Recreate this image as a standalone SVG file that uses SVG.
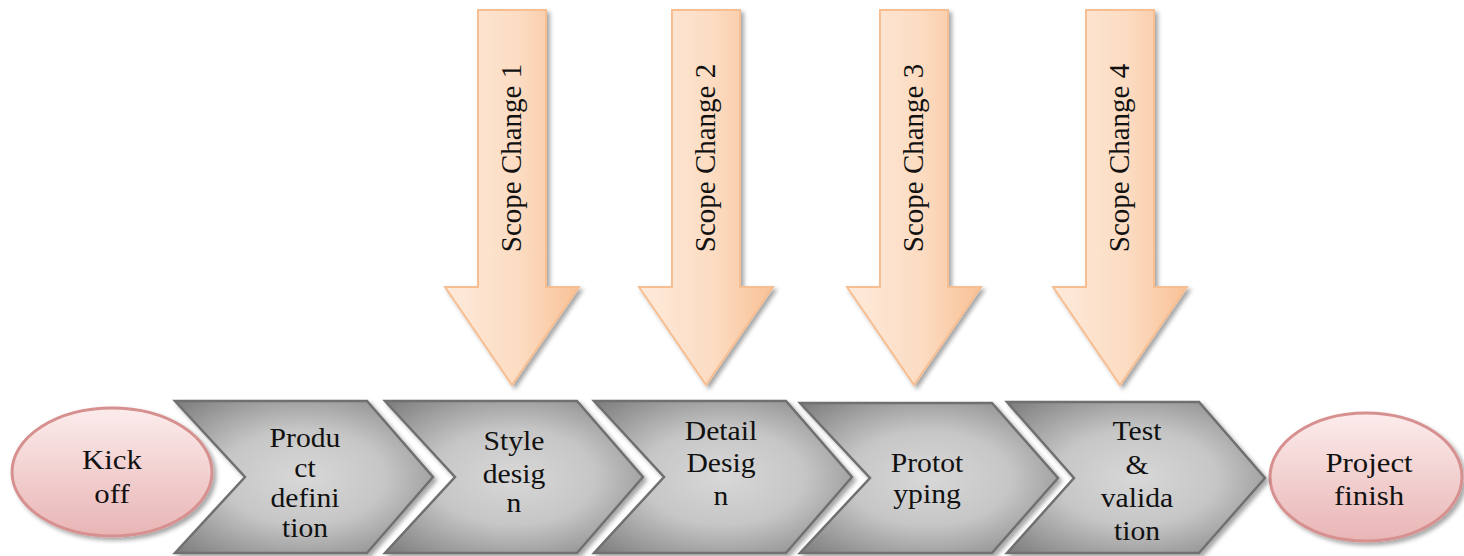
<svg xmlns="http://www.w3.org/2000/svg" width="1464" height="556" viewBox="0 0 1464 556">
  <defs>
    <linearGradient id="peach" x1="0" y1="0" x2="1" y2="0">
      <stop offset="0" stop-color="#fdeadb"/>
      <stop offset="0.55" stop-color="#fcdcc2"/>
      <stop offset="1" stop-color="#f8c196"/>
    </linearGradient>
    <radialGradient id="steel" cx="0.5" cy="0.5" r="0.7">
      <stop offset="0" stop-color="#d8d8d8"/>
      <stop offset="0.45" stop-color="#c6c6c6"/>
      <stop offset="1" stop-color="#7c7c7c"/>
    </radialGradient>
    <linearGradient id="pink" x1="0" y1="0" x2="0" y2="1">
      <stop offset="0" stop-color="#fcecec"/>
      <stop offset="1" stop-color="#e9b5b5"/>
    </linearGradient>
    <filter id="shadow" x="-10%" y="-10%" width="130%" height="130%">
      <feDropShadow dx="3" dy="3" stdDeviation="2" flood-color="#000" flood-opacity="0.35"/>
    </filter>
  </defs>
  <style>
    .arrow { fill: url(#peach); stroke: #f7be92; stroke-width: 2; filter: url(#shadow); }
    .chev { fill: url(#steel); stroke: #6f6f6f; stroke-width: 2.5; stroke-linejoin: miter; filter: url(#shadow); }
    .oval { fill: url(#pink); stroke: #d6908f; stroke-width: 3; filter: url(#shadow); }
    text { font-family: "Liberation Serif", "Times New Roman", serif; font-size: 28px; fill: #111; text-anchor: middle; }
    .vert { font-size: 29px; }
  </style>

  <!-- scope change arrows -->
  <g id="scope1">
    <path class="arrow" d="M478 10 H546 V287 H579 L512 385 L445 287 H478 Z"/>
    <text class="vert" transform="translate(521 158) rotate(-90)">Scope Change 1</text>
  </g>
  <g id="scope2">
    <path class="arrow" d="M672 10 H740 V287 H773 L706 385 L639 287 H672 Z"/>
    <text class="vert" transform="translate(715 158) rotate(-90)">Scope Change 2</text>
  </g>
  <g id="scope3">
    <path class="arrow" d="M880 10 H948 V287 H981 L914 385 L847 287 H880 Z"/>
    <text class="vert" transform="translate(923 158) rotate(-90)">Scope Change 3</text>
  </g>
  <g id="scope4">
    <path class="arrow" d="M1086 10 H1154 V287 H1187 L1120 385 L1053 287 H1086 Z"/>
    <text class="vert" transform="translate(1129 158) rotate(-90)">Scope Change 4</text>
  </g>

  <!-- start / finish (labels slightly widened, centred on x=0 of each group) -->
  <g id="kickoff">
    <ellipse class="oval" cx="112" cy="472" rx="100" ry="64"/>
    <g transform="translate(112 0) scale(1.1 1)">
      <text x="0" y="469">Kick</text>
      <text x="0" y="503">off</text>
    </g>
  </g>
  <g id="finish">
    <ellipse class="oval" cx="1366" cy="477" rx="96" ry="64"/>
    <g transform="translate(1369 0) scale(1.1 1)">
      <text x="0" y="472">Project</text>
      <text x="0" y="505">finish</text>
    </g>
  </g>

  <!-- phase chevrons -->
  <g id="phase1">
    <path class="chev" d="M175 401 H367 L433 477 L367 553 H175 L245 477 Z"/>
    <g transform="translate(305 0) scale(1.06 1)">
      <text x="0" y="447">Produ</text>
      <text x="0" y="477">ct</text>
      <text x="0" y="507">defini</text>
      <text x="0" y="537">tion</text>
    </g>
  </g>
  <g id="phase2">
    <path class="chev" d="M385 401 H577 L643 477 L577 553 H385 L455 477 Z"/>
    <g transform="translate(514 0) scale(1.06 1)">
      <text x="0" y="450">Style</text>
      <text x="0" y="483">desig</text>
      <text x="0" y="512">n</text>
    </g>
  </g>
  <g id="phase3">
    <path class="chev" d="M594 401 H786 L852 477 L786 553 H594 L664 477 Z"/>
    <g transform="translate(721 0) scale(1.06 1)">
      <text x="0" y="440">Detail</text>
      <text x="0" y="472">Desig</text>
      <text x="0" y="505">n</text>
    </g>
  </g>
  <g id="phase4">
    <path class="chev" d="M800 403 H992 L1058 478 L992 553 H800 L870 478 Z"/>
    <g transform="translate(927 0) scale(1.06 1)">
      <text x="0" y="472">Protot</text>
      <text x="0" y="503">yping</text>
    </g>
  </g>
  <g id="phase5">
    <path class="chev" d="M1007 402 H1199 L1265 478 L1199 553 H1007 L1074 478 Z"/>
    <g transform="translate(1137 0) scale(1.06 1)">
      <text x="0" y="440">Test</text>
      <text x="0" y="474">&amp;</text>
      <text x="0" y="507">valida</text>
      <text x="0" y="540">tion</text>
    </g>
  </g>
</svg>
